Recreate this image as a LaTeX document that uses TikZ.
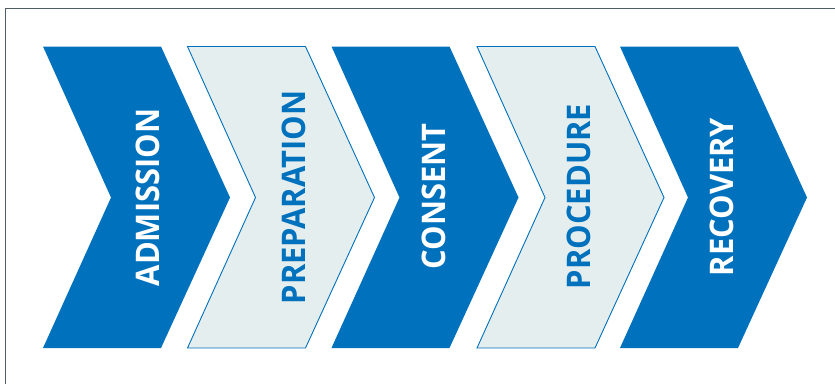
\documentclass[tikz,border=0pt]{standalone}
\usepackage{fontspec}
\usepackage{graphicx}
\setmainfont{Open Sans}
\definecolor{dblue}{HTML}{0071BC}
\definecolor{lfill}{HTML}{E5EEEF}
\definecolor{framec}{HTML}{4E5C66}
\tikzset{
  darkchev/.style={fill=dblue, draw=none},
  lightchev/.style={fill=lfill, draw=dblue, line width=0.9pt},
  steplabel/.style={rotate=90, inner sep=0pt, font=\bfseries\fontsize{32.5}{32.5}\selectfont},
  darklabel/.style={steplabel, text=white},
  lightlabel/.style={steplabel, text=dblue},
}
\newcommand\chevpath[2]{%
  \path[#2] (#1,46.5) -- ({#1+118},46.5) -- ({#1+187},197.5) -- ({#1+118},348) -- (#1,348) -- ({#1+68},197.5) -- cycle;}
\newcommand\narrow[1]{\scalebox{0.95}[1]{#1}}
\begin{document}
\begin{tikzpicture}[x=1pt,y=-1pt]
\useasboundingbox (0,0) rectangle (835,383);
\draw[framec, line width=1.6pt] (5.5,400) -- (5.5,8.5) -- (850,8.5);
\chevpath{43}{darkchev}
\chevpath{187.5}{lightchev}
\chevpath{331.5}{darkchev}
\chevpath{477}{lightchev}
\chevpath{620}{darkchev}
\node[darklabel] (admission) at (147.5,197.5) {\narrow{ADMISSION}};
\node[lightlabel] (preparation) at (293.5,197.5) {\narrow{PREPARATION}};
\node[darklabel] (consent) at (434.3,196.5) {\narrow{CONSENT}};
\node[lightlabel] (procedure) at (579,196.5) {\narrow{PROCEDURE}};
\node[darklabel] (recovery) at (721.7,197) {\narrow{RECOVERY}};
\end{tikzpicture}
\end{document}
